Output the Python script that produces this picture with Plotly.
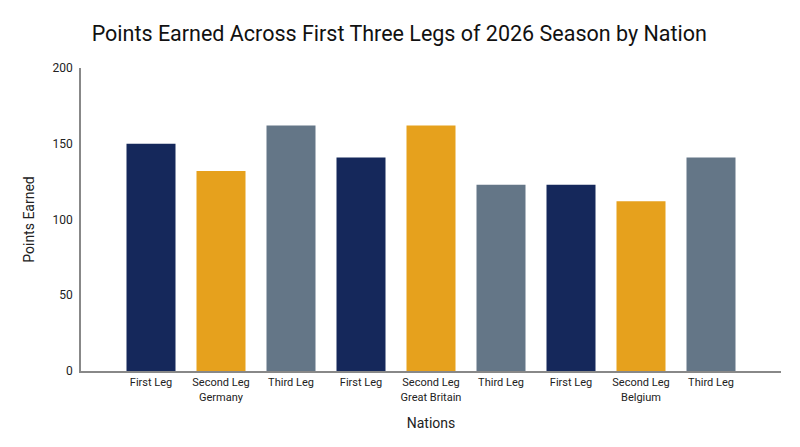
import plotly.graph_objects as go

# Points per nation for each leg of the season
nations = ["Germany", "Great Britain", "Belgium"]
legs = ["First Leg", "Second Leg", "Third Leg"]
first_leg = [150, 141, 123]
second_leg = [132, 162, 112]
third_leg = [162, 123, 141]
leg_colors = ["#15285b", "#e6a11d", "#647687"]

# flatten into one multicategory trace, nation by nation
points = [first_leg, second_leg, third_leg]
x_nation, x_leg, y_vals, colors = [], [], [], []
for i, nation in enumerate(nations):
    for j, leg in enumerate(legs):
        x_nation.append(nation)
        x_leg.append(leg)
        y_vals.append(points[j][i])
        colors.append(leg_colors[j])

fig = go.Figure(go.Bar(
    x=[x_nation, x_leg],
    y=y_vals,
    marker=dict(color=colors, line=dict(width=0)),
    hovertemplate="%{x}<br>%{y}<extra></extra>",
))

# page body has an 8px margin, so the figure is a bit smaller than the window
fig.update_layout(
    width=792, height=439,
    margin=dict(l=73, r=19, t=60, b=76),
    paper_bgcolor="white", plot_bgcolor="white",
    showlegend=False,
    bargap=0.3,
    font=dict(family="Roboto, Arial, sans-serif", color="#222222"),
    title=dict(text="Points Earned Across First Three Legs of 2026 Season by Nation",
               x=0.494, xanchor="center", y=0.941, yanchor="middle",
               font=dict(size=21.5, color="#111111")),
)

fig.update_xaxes(
    title=dict(text="Nations", font=dict(size=14, color="#222222")),
    automargin=False,
    showline=True, linecolor="#888888", linewidth=1.5,
    showgrid=False, showdividers=False, ticks="",
    tickfont=dict(size=11, color="#222222"),
    range=[-1, 9],
)
fig.update_yaxes(
    title=dict(text="Points Earned", font=dict(size=14, color="#222222")),
    automargin=False,
    range=[0, 200], dtick=50,
    showline=True, linecolor="#888888", linewidth=1.5,
    showgrid=False, zeroline=False, ticks="",
    ticklabelstandoff=4,
    tickfont=dict(size=12, color="#222222"),
)

fig.write_html("out.html")
